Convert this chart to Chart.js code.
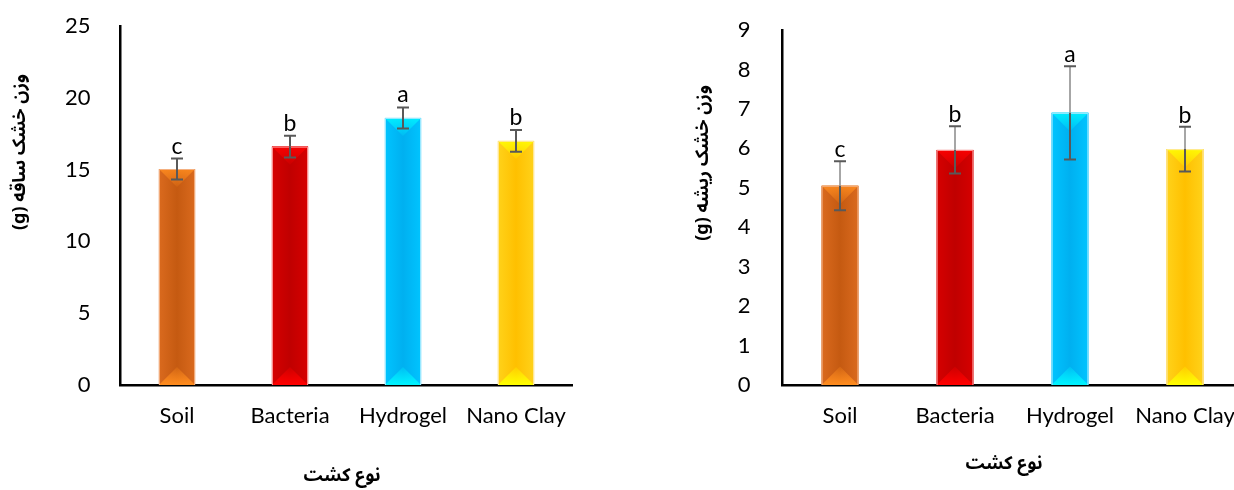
<!DOCTYPE html>
<html>
<head>
<meta charset="utf-8">
<script src="https://cdn.jsdelivr.net/npm/chart.js@4/dist/chart.umd.min.js"></script>
<style>
  html, body { margin: 0; padding: 0; background: #fff; overflow: hidden; width: 1234px; height: 490px; }
  #wrap { position: relative; width: 1234px; height: 490px; overflow: hidden; }
  .panel { position: absolute; top: 0; }
</style>
</head>
<body>
<div id="wrap">
  <div class="panel" style="left:0;width:620px;height:490px"><canvas id="shoot" width="620" height="490"></canvas></div>
  <div class="panel" style="left:620px;width:640px;height:490px"><canvas id="root" width="640" height="490"></canvas></div>
</div>
<script>
// Treatments
const categories = ['Soil', 'Bacteria', 'Hydrogel', 'Nano Clay'];

// Shoot dry weight (g), standard error and significance groups
const shootWeight = [15.04, 16.6, 18.6, 17.0];
const shootError  = [0.73, 0.75, 0.73, 0.76];
const shootGroups = ['c', 'b', 'a', 'b'];
const shootAxis   = { min: 0, max: 25, step: 5 };

// Root dry weight (g), standard error and significance groups
const rootWeight = [5.05, 5.96, 6.90, 5.98];
const rootError  = [0.62, 0.60, 1.18, 0.57];
const rootGroups = ['c', 'b', 'a', 'b'];
const rootAxis   = { min: 0, max: 9, step: 1 };

// Axis titles
const shootTitle = 'وزن خشک ساقه (g)';
const rootTitle  = 'وزن خشک ریشه (g)';
const xTitle     = 'نوع کشت';

// Bar palette: body, side highlight, bevel tip, rim
const barBase  = ['#C55A11', '#C00000', '#00B0F0', '#FFC000'];
const barEdge  = ['#DA6A1E', '#D60000', '#00C4FF', '#FFD21A'];
const barLight = ['#FF8C1E', '#FF0000', '#00F4FF', '#FFFF00'];
const barRim   = ['#F4B183', '#FF9C9C', '#A6ECFF', '#FFE9A0'];

const TICK_FONT = { family: 'Lato, "Open Sans", sans-serif', size: 22 };
const TITLE_FAMILY = '"Noto Sans Arabic", "Noto Naskh Arabic", "DejaVu Sans", sans-serif';

function rgba(hex, a) {
  const n = parseInt(hex.slice(1), 16);
  return `rgba(${(n >> 16) & 255},${(n >> 8) & 255},${n & 255},${a})`;
}

// Paints the bevelled look over each bar, then error bars and group letters
const decorPlugin = {
  id: 'decor',
  afterDatasetsDraw(chart, args, opts) {
    const ctx = chart.ctx;
    const meta = chart.getDatasetMeta(0);
    const yScale = chart.scales.y;
    meta.data.forEach((el, i) => {
      const { x, y, base, width } = el.getProps(['x', 'y', 'base', 'width'], true);
      const l = x - width / 2, r = x + width / 2;
      const h = width / 2;
      ctx.save();
      // side-to-side shading
      const g = ctx.createLinearGradient(l, 0, r, 0);
      g.addColorStop(0, barEdge[i]);
      g.addColorStop(0.5, barBase[i]);
      g.addColorStop(1, barEdge[i]);
      ctx.fillStyle = g;
      ctx.fillRect(l, y, width, base - y);
      // top bevel
      const gt = ctx.createLinearGradient(0, y, 0, y + h);
      gt.addColorStop(0, rgba(barLight[i], 0.85));
      gt.addColorStop(1, rgba(barLight[i], 0.15));
      ctx.fillStyle = gt;
      ctx.beginPath();
      ctx.moveTo(l, y); ctx.lineTo(r, y); ctx.lineTo(x, y + h); ctx.closePath();
      ctx.fill();
      // bottom bevel
      const gb = ctx.createLinearGradient(0, base, 0, base - h);
      gb.addColorStop(0, rgba(barLight[i], 1));
      gb.addColorStop(1, rgba(barLight[i], 0.2));
      ctx.fillStyle = gb;
      ctx.beginPath();
      ctx.moveTo(l, base); ctx.lineTo(r, base); ctx.lineTo(x, base - h); ctx.closePath();
      ctx.fill();
      // rim
      ctx.strokeStyle = barRim[i];
      ctx.lineWidth = 1;
      ctx.beginPath();
      ctx.moveTo(l + 0.5, base); ctx.lineTo(l + 0.5, y + 0.5); ctx.lineTo(r - 0.5, y + 0.5); ctx.lineTo(r - 0.5, base);
      ctx.stroke();
      ctx.restore();

      // error bar
      const v = chart.data.datasets[0].data[i];
      const e = opts.errors[i];
      const yHi = yScale.getPixelForValue(v + e);
      const yLo = yScale.getPixelForValue(v - e);
      ctx.save();
      ctx.lineWidth = 2;
      ctx.strokeStyle = opts.stemAbove;
      ctx.beginPath(); ctx.moveTo(x, yHi); ctx.lineTo(x, Math.min(y, yLo)); ctx.stroke();
      ctx.strokeStyle = '#595959';
      ctx.beginPath(); ctx.moveTo(x, Math.max(y, yHi)); ctx.lineTo(x, yLo); ctx.stroke();
      ctx.beginPath();
      ctx.moveTo(x - 6, yHi); ctx.lineTo(x + 6, yHi);
      ctx.moveTo(x - 6, yLo); ctx.lineTo(x + 6, yLo);
      ctx.stroke();
      // group letter
      ctx.fillStyle = '#000';
      ctx.font = `${opts.letterSize}px ${TICK_FONT.family}`;
      ctx.textAlign = 'center';
      ctx.textBaseline = 'alphabetic';
      ctx.fillText(opts.groups[i], x, yHi - opts.letterGap);
      ctx.restore();
    });
  }
};

// Persian axis titles
const titlePlugin = {
  id: 'titles',
  afterDraw(chart, args, opts) {
    const ctx = chart.ctx;
    ctx.save();
    ctx.fillStyle = '#000';
    ctx.font = `bold ${opts.size}px ${TITLE_FAMILY}`;
    ctx.direction = 'rtl';
    ctx.textAlign = 'center';
    ctx.textBaseline = 'middle';
    ctx.save();
    ctx.translate(opts.yPos[0], opts.yPos[1]);
    ctx.rotate(-Math.PI / 2);
    ctx.fillText(opts.yText, 0, 0);
    ctx.restore();
    ctx.fillText(opts.xText, opts.xPos[0], opts.xPos[1]);
    ctx.restore();
  }
};

function makeChart(id, values, errors, groups, axis, cfg) {
  return new Chart(document.getElementById(id), {
    type: 'bar',
    data: {
      labels: categories,
      datasets: [{
        data: values,
        backgroundColor: barBase,
        borderWidth: 0,
        barPercentage: 1,
        categoryPercentage: cfg.catPct
      }]
    },
    options: {
      responsive: false,
      animation: false,
      events: [],
      layout: { padding: cfg.padding },
      plugins: {
        legend: { display: false },
        tooltip: { enabled: false },
        decor: { errors, groups, stemAbove: cfg.stemAbove, letterSize: 23, letterGap: cfg.letterGap },
        titles: cfg.titles
      },
      scales: {
        x: {
          grid: { display: false },
          border: { display: true, color: '#000', width: 2.5 },
          ticks: { color: '#000', font: TICK_FONT, padding: 10, maxRotation: 0, autoSkip: false },
          afterFit(s) { s.height = cfg.xHeight; s.paddingLeft = 0; s.paddingRight = 0; }
        },
        y: {
          min: axis.min, max: axis.max,
          grid: { display: false },
          border: { display: true, color: '#000', width: 2.5 },
          ticks: { color: '#000', font: TICK_FONT, padding: cfg.yPad, stepSize: axis.step },
          afterFit(s) { s.width = cfg.yWidth; s.paddingTop = 0; s.paddingBottom = 0; }
        }
      }
    },
    plugins: [decorPlugin, titlePlugin]
  });
}

makeChart('shoot', shootWeight, shootError, shootGroups, shootAxis, {
  catPct: 0.32,
  padding: { left: 0, top: 26, right: 47.5, bottom: 0 },
  xHeight: 105,
  yWidth: 120.5,
  yPad: 22,
  letterGap: 5,
  stemAbove: '#595959',
  titles: { size: 18, yText: shootTitle, yPos: [22, 152], xText: xTitle, xPos: [342, 478] }
});

makeChart('root', rootWeight, rootError, rootGroups, rootAxis, {
  catPct: 0.32,
  padding: { left: 0, top: 30, right: 17.5, bottom: 0 },
  xHeight: 105,
  yWidth: 162.5,
  yPad: 24,
  letterGap: 4,
  stemAbove: '#A6A6A6',
  titles: { size: 18, yText: rootTitle, yPos: [85, 163], xText: xTitle, xPos: [384, 466] }
});
</script>
</body>
</html>
